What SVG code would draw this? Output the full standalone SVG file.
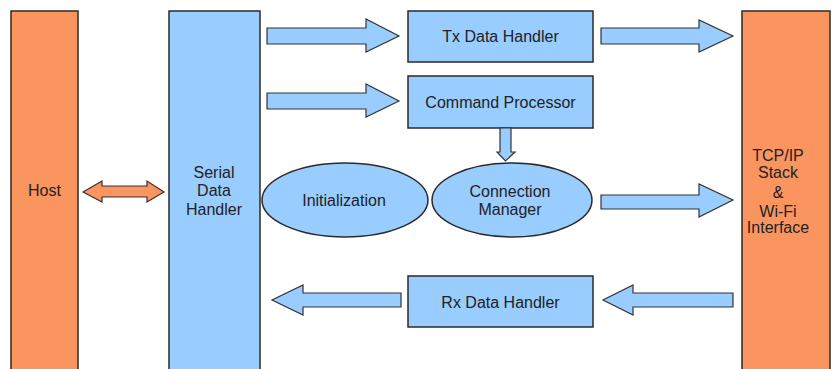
<svg xmlns="http://www.w3.org/2000/svg" width="835" height="369" viewBox="0 0 835 369">
<style>
.or{fill:#FA9560;stroke:#2a2a2a;stroke-width:1.5}
.bl{fill:#99CCFF;stroke:#2a2a2a;stroke-width:1.5}
.ar{fill:#99CCFF;stroke:#333;stroke-width:1.2;stroke-linejoin:miter}
.ar2{fill:#FA9560;stroke:#333;stroke-width:1.2}
text{font-family:"Liberation Sans",Arial,sans-serif;font-size:16px;fill:#222;text-anchor:middle}
</style>
<rect width="835" height="369" fill="#ffffff"/>
<g id="host"><rect class="or" x="11" y="11" width="67" height="370"/><text x="44.5" y="196" fill="#3a2a22">Host</text></g>
<g id="serial"><rect class="bl" x="169" y="11" width="91" height="370"/><text x="214" y="178">Serial</text><text x="214" y="196">Data</text><text x="214" y="215">Handler</text></g>
<g id="tcp"><rect class="or" x="742" y="11" width="88" height="370"/><text x="778" y="161" fill="#3a2a22">TCP/IP</text><text x="778" y="178" fill="#3a2a22">Stack</text><text x="778" y="198" fill="#3a2a22">&amp;</text><text x="778" y="217" fill="#3a2a22">Wi-Fi</text><text x="778" y="233" fill="#3a2a22">Interface</text></g>
<g id="tx"><rect class="bl" x="408" y="11" width="185" height="51"/><text x="500.5" y="42">Tx Data Handler</text></g>
<g id="cmd"><rect class="bl" x="408" y="76" width="185" height="52"/><text x="500.5" y="108">Command Processor</text></g>
<g id="rx"><rect class="bl" x="408" y="276" width="185" height="51"/><text x="500.5" y="308">Rx Data Handler</text></g>
<g id="init"><ellipse class="bl" cx="345" cy="200" rx="83" ry="37"/><text x="344" y="206">Initialization</text></g>
<g id="conn"><ellipse class="bl" cx="512" cy="200" rx="80" ry="37"/><text x="510" y="197">Connection</text><text x="510" y="215">Manager</text></g>
<g id="connectors">
<polygon class="ar2" points="83,192 102,181 102,186 147,186 147,181 164,192 147,202 147,197 102,197 102,202"/>
<polygon class="ar" points="267,28 366,28 366,19 399,36 366,52 366,44 267,44"/>
<polygon class="ar" points="267,93 366,93 366,84 399,101 366,117 366,109 267,109"/>
<polygon class="ar" points="601,28 699,28 699,20 733,36 699,52 699,44 601,44"/>
<polygon class="ar" points="601,195 699,195 699,184 733,200 699,217 699,209 601,209"/>
<polygon class="ar" points="733,293 633,293 633,285 603,300 633,315 633,307 733,307"/>
<polygon class="ar" points="401,293 303,293 303,285 272,300 303,315 303,307 401,307"/>
<polygon class="ar" points="500,128 511,128 511,152 515,152 505.5,161 497,152 500,152"/>
</g>
</svg>
